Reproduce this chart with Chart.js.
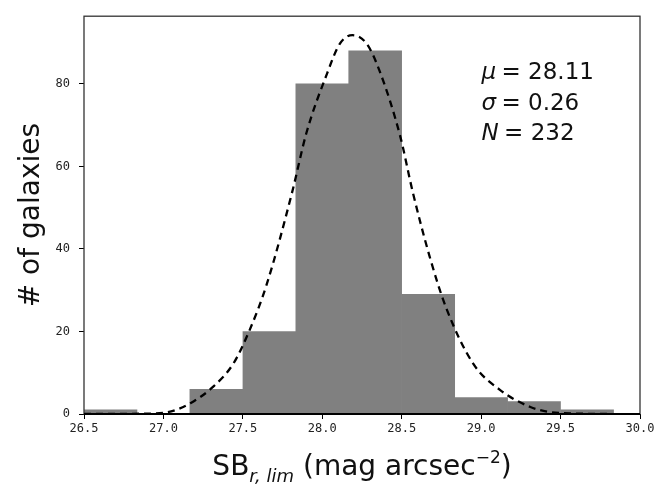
<!DOCTYPE html>
<html>
<head>
<meta charset="utf-8">
<script src="https://cdn.jsdelivr.net/npm/chart.js@4.4.1/dist/chart.umd.min.js"></script>
<style>
  html, body { margin: 0; padding: 0; background: #fff; }
  #wrap { width: 663px; height: 486px; }
</style>
</head>
<body>
<div id="wrap"><canvas id="myChart"></canvas></div>
<script>
// histogram bins (centres) and counts
const binCenters = [26.667, 27.0, 27.333, 27.667, 28.0, 28.333, 28.667, 29.0, 29.333, 29.667];
const binCounts = [1, 0, 6, 20, 80, 88, 29, 4, 3, 1];

// dashed fit curve
const curveX = [26.5, 26.8, 27.0, 27.08, 27.17, 27.31, 27.44, 27.54, 27.65, 27.81, 27.9, 28.03, 28.11, 28.19, 28.28, 28.36, 28.49, 28.57, 28.68, 28.78, 28.95, 29.12, 29.31, 29.43, 29.6, 29.8];
const curveY = [0, 0.05, 0.3, 1.0, 2.6, 6.5, 12.2, 20.1, 31.4, 53.7, 68.1, 82.5, 89.7, 91.8, 89.7, 83.2, 67.4, 53.7, 37.6, 25.7, 12.2, 5.8, 1.7, 0.5, 0.1, 0];

const xTicks = [26.5, 27.0, 27.5, 28.0, 28.5, 29.0, 29.5, 30.0];
const yTicks = [0, 20, 40, 60, 80];

const statLines = [
    { sym: 'μ', val: '28.11' },
    { sym: 'σ', val: '0.26' },
    { sym: 'N', val: '232' }
];

const ctx = document.getElementById('myChart');

// box around the plot, x title with subscript, stats text
const extras = {
    id: 'extras',
    afterDatasetsDraw(chart) {
        const c = chart.ctx;
        const a = chart.chartArea;
        c.save();
        c.strokeStyle = '#333';
        c.lineWidth = 1.3;
        c.strokeRect(a.left, a.top, a.right - a.left, a.bottom - a.top);
        c.strokeStyle = '#000';
        c.lineWidth = 2.2;
        c.beginPath();
        c.moveTo(a.left, a.bottom);
        c.lineTo(a.right, a.bottom);
        c.stroke();

        // stats
        c.fillStyle = '#111';
        c.textBaseline = 'middle';
        const sx = a.left + (a.right - a.left) * 0.715;
        statLines.forEach(function(s, i) {
            const y = a.top + 57 + i * 30.5;
            c.font = 'italic 23px "DejaVu Sans"';
            c.fillText(s.sym, sx, y);
            const w = c.measureText(s.sym).width;
            c.font = '23px "DejaVu Sans"';
            c.fillText(' = ' + s.val, sx + w - 2, y);
        });

        // x title
        const big = '28px "DejaVu Sans"';
        const sub = 'italic 18px "DejaVu Sans"';
        const sup = '17px "DejaVu Sans"';
        const parts = [
            { t: 'SB', f: big, dy: 0 },
            { t: 'r, lim', f: sub, dy: 7 },
            { t: ' (mag arcsec', f: big, dy: 0 },
            { t: '−2', f: sup, dy: -12 },
            { t: ')', f: big, dy: 0 }
        ];
        let total = 0;
        parts.forEach(function(p) { c.font = p.f; p.w = c.measureText(p.t).width; total += p.w; });
        let x = (a.left + a.right) / 2 - total / 2;
        const by = 475;
        c.textBaseline = 'alphabetic';
        parts.forEach(function(p) {
            c.font = p.f;
            c.fillText(p.t, x, by + p.dy);
            x += p.w;
        });
        c.restore();
    }
};

new Chart(ctx, {
    type: 'bar',
    data: {
        datasets: [
            {
                type: 'line',
                data: curveX.map(function(v, i) { return { x: v, y: curveY[i] }; }),
                borderColor: '#000',
                borderWidth: 2.3,
                borderDash: [7, 5],
                pointRadius: 0,
                cubicInterpolationMode: 'monotone',
                fill: false,
                order: 0
            },
            {
                label: 'galaxies',
                data: binCenters.map(function(v, i) { return { x: v, y: binCounts[i] }; }),
                backgroundColor: '#808080',
                borderWidth: 0,
                barPercentage: 1,
                categoryPercentage: 1,
                order: 1
            }
        ]
    },
    plugins: [extras],
    options: {
        responsive: true,
        maintainAspectRatio: false,
        animation: false,
        layout: {
            padding: { left: 0, right: 23, top: 12, bottom: 0 }
        },
        plugins: {
            legend: { display: false },
            tooltip: { enabled: false }
        },
        scales: {
            x: {
                type: 'linear',
                offset: false,
                min: 26.5,
                max: 30.0,
                afterFit: function(scale) { scale.height = 72; },
                afterBuildTicks: function(scale) {
                    scale.ticks = xTicks.map(function(v) { return { value: v }; });
                },
                grid: {
                    drawOnChartArea: false,
                    drawTicks: true,
                    tickLength: 5,
                    color: '#000',
                    offset: false
                },
                border: { display: false },
                ticks: {
                    color: '#222',
                    padding: 3,
                    maxRotation: 0,
                    font: { family: 'DejaVu Sans Mono', size: 12 },
                    callback: function(value) { return value.toFixed(1); }
                }
            },
            y: {
                min: 0,
                max: 96.4,
                afterFit: function(scale) { scale.width = 84; },
                afterBuildTicks: function(scale) {
                    scale.ticks = yTicks.map(function(v) { return { value: v }; });
                },
                grid: {
                    drawOnChartArea: false,
                    drawTicks: true,
                    tickLength: 5,
                    color: '#000'
                },
                border: { display: false },
                title: {
                    display: true,
                    text: '# of galaxies',
                    color: '#111',
                    font: { family: 'DejaVu Sans', size: 28 },
                    padding: { top: 15, bottom: 0 }
                },
                ticks: {
                    color: '#222',
                    padding: 9,
                    font: { family: 'DejaVu Sans Mono', size: 12 }
                }
            }
        }
    }
});
</script>
</body>
</html>
